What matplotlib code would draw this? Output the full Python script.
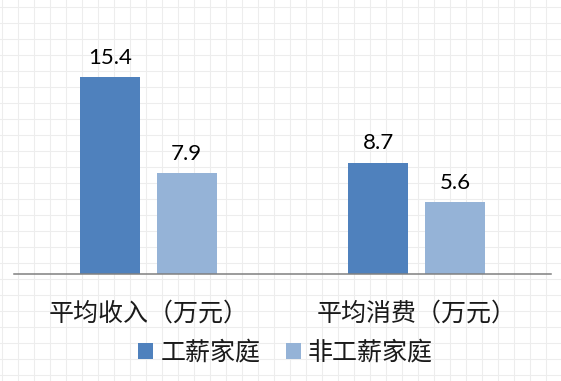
import numpy as np
import matplotlib
matplotlib.use('Agg')
import matplotlib.pyplot as plt
from matplotlib.patches import Patch

plt.rcParams['font.family'] = ['Noto Sans CJK SC', 'DejaVu Sans']

# Data
categories = ['平均收入（万元）', '平均消费（万元）']
series_names = ['工薪家庭', '非工薪家庭']
wage_values = [15.4, 8.7]
non_wage_values = [7.9, 5.6]

colors = ['#4F81BD', '#95B3D7']

W, H = 561, 381
fig = plt.figure(figsize=(W / 100, H / 100), dpi=100)
fig.patch.set_facecolor('white')

# Faint graph-paper background
bg = fig.add_axes([0, 0, 1, 1], zorder=0)
bg.set_xlim(0, W)
bg.set_ylim(H, 0)
bg.set_xticks(np.arange(2, W, 16))
bg.set_yticks(np.arange(7, H, 16))
bg.grid(True, color='#EDEDED', linewidth=0.8)
bg.tick_params(left=False, bottom=False, labelleft=False, labelbottom=False)
for s in bg.spines.values():
    s.set_visible(False)

# Main plot area (pixel positions measured on the reference)
left, right, base, top = 14, 551, 274, 18
ax = fig.add_axes([left / W, 1 - base / H, (right - left) / W, (base - top) / H], zorder=1)
ax.patch.set_alpha(0)

x = np.arange(len(categories))
width = 0.2235
offset = 0.143

bars1 = ax.bar(x - offset, wage_values, width, color=colors[0])
bars2 = ax.bar(x + offset, non_wage_values, width, color=colors[1])

for bars in (bars1, bars2):
    for bar in bars:
        ax.annotate(f'{bar.get_height():.1f}',
                    (bar.get_x() + bar.get_width() / 2, bar.get_height()),
                    xytext=(0, 9.5), textcoords='offset points',
                    ha='center', va='baseline',
                    fontsize=16, family=['Lato', 'DejaVu Sans'], color='black')

ax.set_xlim(-0.5, 1.5)
ax.set_ylim(0, 20)
ax.set_yticks([])
ax.set_xticks(x)
ax.set_xticklabels(categories, fontsize=18, color='#1A1A1A')
ax.tick_params(axis='x', length=0, pad=19)

for side in ('top', 'right', 'left'):
    ax.spines[side].set_visible(False)
ax.spines['bottom'].set_color('#808080')
ax.spines['bottom'].set_linewidth(1.1)

handles = [Patch(facecolor=c, edgecolor='none') for c in colors]
fig.legend(handles, series_names, loc='center',
           bbox_to_anchor=(285.5 / W, 1 - 353 / H), ncol=2, frameon=False,
           fontsize=18, handlelength=0.6, handleheight=0.6,
           handletextpad=0.3, columnspacing=1.0, labelcolor='#1A1A1A')

fig.savefig('out.png', dpi=100)
plt.close(fig)
